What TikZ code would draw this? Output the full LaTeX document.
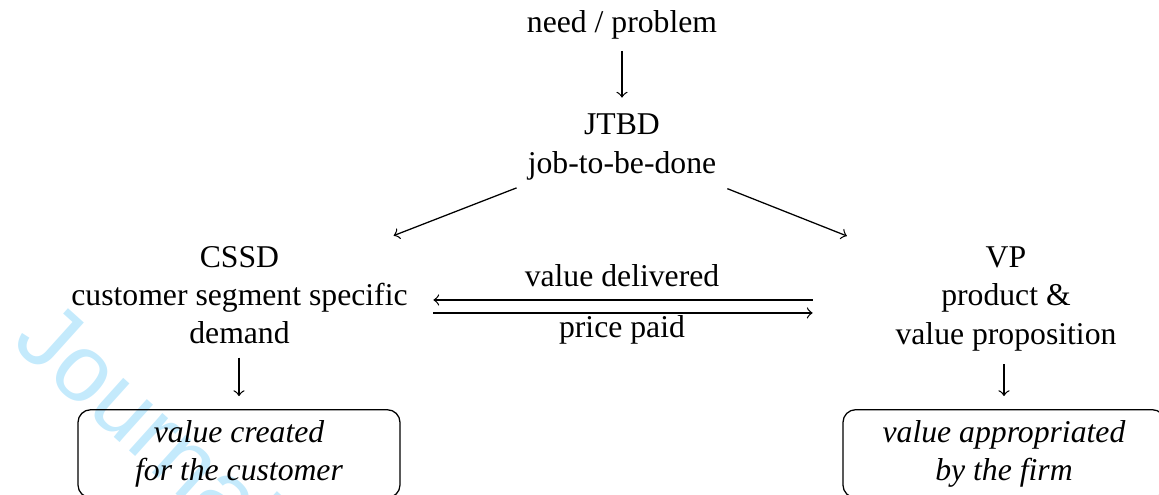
\documentclass[tikz,border=0pt]{standalone}
\usepackage{fontspec}
\setmainfont{Liberation Serif}
\newfontfamily\wmfont{Liberation Sans}
\definecolor{wmcolor}{RGB}{196,234,252}
\begin{document}
\begin{tikzpicture}[x=0.3155pt, y=-0.3155pt,
  every node/.style={font=\fontsize{10}{12}\selectfont},
  lbl/.style={align=center},
  resbox/.style={draw, rounded corners=4pt, align=center, minimum width=101.6pt, font=\fontsize{10}{12}\selectfont\itshape},
  arr/.style={->, line width=0.4pt},
  watermark/.style={font=\wmfont\fontsize{30}{30}\selectfont, text=wmcolor}]
\useasboundingbox (0,0) rectangle (1159,495);
% watermark
\begin{scope}
  \clip (0,0) rectangle (1159,495);
  \node[watermark, rotate=-42, anchor=base west, inner sep=0pt] (wm) at (10,344) {Journal};
\end{scope}
% nodes
\node[anchor=base] (need) at (622,33) {need / problem};
\node[lbl] (jtbd) at (622,147) {JTBD\\job-to-be-done};
\node[lbl] (cssd) at (239.5,295.5) {CSSD\\customer segment specific\\demand};
\node[lbl, minimum width=107pt] (vp) at (1006,299) {VP\\product \&\\value proposition};
\node[anchor=base] (vd) at (622,287) {value delivered};
\node[anchor=base] (pp) at (622,338) {price paid};
\node[resbox] (vc) at (239,453.7) {value created\\for the customer};
\node[resbox] (va) at (1004,453.7) {value appropriated\\by the firm};
% helper coordinates for the exchange arrows
\coordinate (vdline) at ([yshift=-4.1pt]vd.base);
\coordinate (ppline) at ([yshift=7.9pt]pp.base);
% connectors
\draw[arr, shorten >=1.7pt] (need) -- (jtbd);
\draw[arr] (jtbd) -- (cssd);
\draw[arr] (jtbd) -- (vp);
\draw[arr, shorten <=7.3pt, shorten >=4.6pt] (vdline -| vp.west) -- (vdline -| cssd.east);
\draw[arr, shorten <=4.6pt, shorten >=7.3pt] (ppline -| cssd.east) -- (ppline -| vp.west);
\draw[arr, shorten <=0.7pt, shorten >=4.1pt] (cssd.south -| vc.north) -- (vc.north);
\draw[arr, shorten <=0.7pt, shorten >=4.1pt] (vp.south -| va.north) -- (va.north);
\end{tikzpicture}
\end{document}
